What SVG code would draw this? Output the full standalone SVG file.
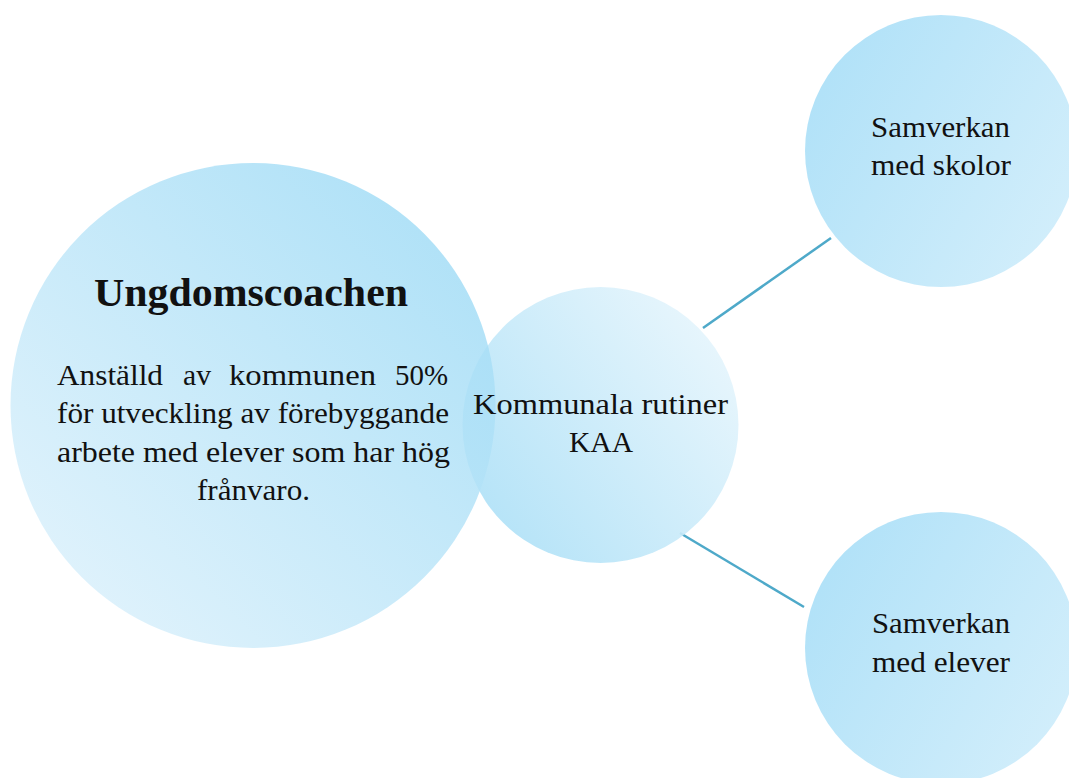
<svg xmlns="http://www.w3.org/2000/svg" width="1069" height="778" viewBox="0 0 1069 778">
<style>
text{font-family:"Liberation Serif","Times New Roman",serif;fill:#111;}
.t{font-size:30px;text-anchor:middle;}
.s{font-size:30px;}
.h{font-size:41px;font-weight:bold;text-anchor:middle;}
.c{stroke:#4ea9c9;stroke-width:2.5;fill:none;}
</style>
<defs>
<linearGradient id="gBig" x1="0.15" y1="0.85" x2="0.85" y2="0.15">
<stop offset="0" stop-color="#d7effb"/>
<stop offset="1" stop-color="#a4ddf6"/>
</linearGradient>
<linearGradient id="gMid" x1="0.1" y1="0.8" x2="0.9" y2="0.2">
<stop offset="0" stop-color="#afe1f7"/>
<stop offset="1" stop-color="#e3f4fc"/>
</linearGradient>
<linearGradient id="gSide" x1="0.05" y1="0.3" x2="0.95" y2="0.8">
<stop offset="0" stop-color="#b2e2f8"/>
<stop offset="1" stop-color="#d2eefb"/>
</linearGradient>
</defs>
<g id="connectors">
<line class="c" x1="703" y1="328" x2="831" y2="238"/>
<line class="c" x1="680" y1="533" x2="804" y2="607"/>
</g>
<g id="node-kaa">
<circle cx="600.5" cy="425" r="138" fill="url(#gMid)" opacity="0.9"/>
</g>
<g id="node-ungdomscoachen">
<circle cx="253" cy="405.5" r="242.5" fill="url(#gBig)" opacity="0.85"/>
<text class="h" x="251" y="306" textLength="314" lengthAdjust="spacingAndGlyphs">Ungdomscoachen</text>
<text class="s" x="57" y="385" textLength="106" lengthAdjust="spacingAndGlyphs">Anställd</text>
<text class="s" x="183" y="385" textLength="28" lengthAdjust="spacingAndGlyphs">av</text>
<text class="s" x="229" y="385" textLength="147" lengthAdjust="spacingAndGlyphs">kommunen</text>
<text class="s" x="395" y="385" textLength="53" lengthAdjust="spacingAndGlyphs">50%</text>
<text class="s" x="57" y="423" textLength="392" lengthAdjust="spacingAndGlyphs">för utveckling av förebyggande</text>
<text class="s" x="57" y="462" textLength="393" lengthAdjust="spacingAndGlyphs">arbete med elever som har hög</text>
<text class="t" x="253.5" y="500" textLength="113" lengthAdjust="spacingAndGlyphs">frånvaro.</text>
</g>
<g id="node-kaa-label">
<text class="t" x="600.5" y="414" textLength="255" lengthAdjust="spacingAndGlyphs">Kommunala rutiner</text>
<text class="t" x="601" y="452" textLength="64" lengthAdjust="spacingAndGlyphs">KAA</text>
</g>
<g id="node-skolor">
<circle cx="941" cy="151" r="136" fill="url(#gSide)"/>
<text class="t" x="940.5" y="137" textLength="139" lengthAdjust="spacingAndGlyphs">Samverkan</text>
<text class="t" x="941" y="175" textLength="140" lengthAdjust="spacingAndGlyphs">med skolor</text>
</g>
<g id="node-elever">
<circle cx="941" cy="648" r="136" fill="url(#gSide)"/>
<text class="t" x="941" y="633" textLength="138" lengthAdjust="spacingAndGlyphs">Samverkan</text>
<text class="t" x="941" y="672" textLength="138" lengthAdjust="spacingAndGlyphs">med elever</text>
</g>
</svg>
